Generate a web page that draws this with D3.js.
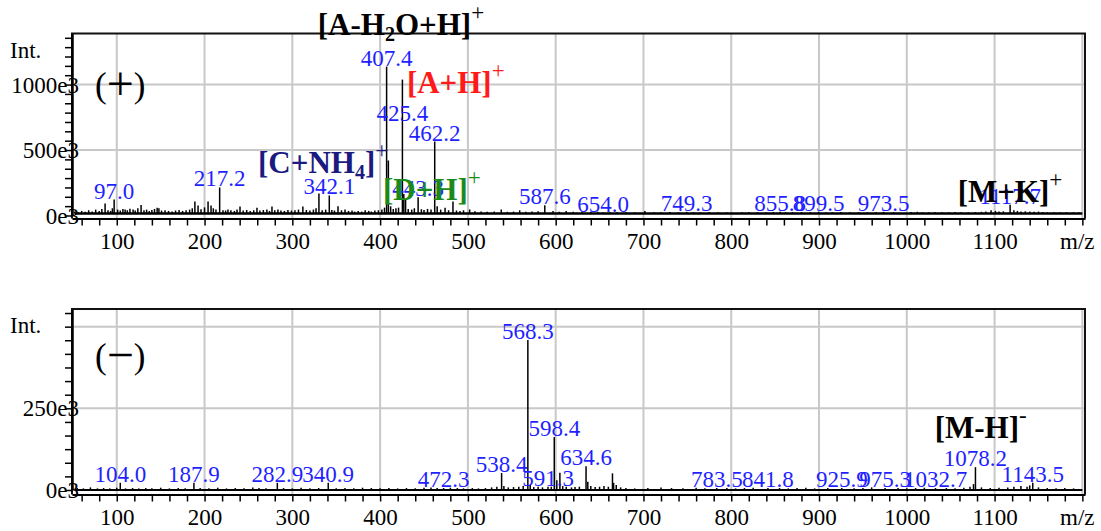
<!DOCTYPE html>
<html>
<head>
<meta charset="utf-8">
<script src="https://cdn.jsdelivr.net/npm/d3@7/dist/d3.min.js"></script>
<style>
  body { margin: 0; background: #fff; }
  svg { display: block; }
  text { font-family: "Liberation Serif", "Times New Roman", serif; }
</style>
</head>
<body>
<div id="chart"></div>
<script>
const xTickValues = [100, 200, 300, 400, 500, 600, 700, 800, 900, 1000, 1100, 1200];
const xTickLabels = [100, 200, 300, 400, 500, 600, 700, 800, 900, 1000, 1100];

// modo positivo: picos etiquetados
const posLabeled = [
  [97.0, 122], [217.2, 214], [342.1, 153], [407.4, 1137], [425.4, 1038],
  [443.3, 140], [462.2, 565], [587.6, 79], [654.0, 22], [749.3, 28],
  [855.8, 28], [899.5, 28], [973.5, 28], [1117.7, 82]
];
// modo positivo: picos menores / ruido
const posMinor = [
  [52, 30], [56, 25], [60, 35], [64, 28], [68, 40], [72, 30], [76, 45], [80, 35], [83, 50],
  [86.7, 92], [90, 40], [93, 35], [95, 55], [101, 45], [104, 38], [107, 50], [109.5, 46],
  [112, 40], [115, 52], [118.6, 46], [121, 38], [124, 55], [127.7, 80], [131, 40], [134, 45],
  [137, 35], [140, 42], [143, 50], [146, 60], [148, 55], [151, 38], [155, 40], [159, 35],
  [163, 30], [167, 38], [171, 42], [175, 35], [179, 40], [183, 45], [186, 55], [189, 107],
  [192.6, 77], [196, 48], [200, 62], [204, 107], [207.4, 76], [210, 55], [213, 45], [221, 40],
  [224, 38], [226.7, 46], [230, 40], [234, 35], [237, 45], [240.4, 69], [244, 38], [248, 42],
  [252, 35], [256, 40], [259.7, 60], [263, 38], [267, 42], [271, 46], [274, 35], [276.8, 69],
  [280, 40], [283.6, 46], [287, 38], [291, 35], [295, 42], [299, 38], [303, 40], [307, 45],
  [312, 69], [316, 42], [320, 38], [324, 45], [327, 55], [330.3, 168], [334, 40], [338, 45],
  [345, 42], [348, 38], [352, 71], [356, 40], [360, 46], [364, 35], [368, 38], [371, 30],
  [375, 35], [379, 30], [383, 40], [387, 35], [390, 30], [394, 38], [398, 40], [402, 45],
  [405, 60], [409.4, 420], [412, 70], [415, 50], [418, 55], [421, 60], [427, 165], [429, 122],
  [432, 50], [436, 45], [439, 55], [447, 48], [450, 42], [454, 50], [458, 45], [465, 71],
  [469, 45], [474, 60], [478, 40], [483, 107], [487, 38], [491, 35], [495, 40], [502, 46],
  [508, 32], [515, 30], [522, 28], [530, 30], [538, 46], [545, 28], [552, 30], [559, 40],
  [566, 28], [573, 30], [580, 32], [597, 35], [604, 28], [612, 35], [620, 28], [630, 30],
  [640, 26], [648, 28], [662, 25], [670, 26], [680, 24], [690, 25], [701.6, 35], [712, 25],
  [720, 24], [730, 26], [740, 24], [757, 25], [765, 24], [775, 26], [785, 24], [795, 25],
  [812, 24], [820, 26], [830, 25], [840, 24], [848, 26], [862, 25], [870, 24], [880, 26],
  [890, 24], [908, 25], [915, 24], [925, 26], [935, 24], [945, 25], [955, 24], [965, 25],
  [985, 24], [1005, 26], [1012, 28], [1018, 25], [1025, 24], [1032, 26], [1040, 25], [1048, 24],
  [1055, 26], [1062, 25], [1070, 24], [1078, 26], [1085, 28], [1090, 30], [1096, 40], [1101, 35],
  [1105, 30], [1110, 32], [1122, 40], [1126, 35], [1130, 30], [1135, 32], [1140, 30], [1145, 28],
  [1150, 30], [1155, 26], [1160, 24], [1168, 25], [1175, 24], [1182, 26], [1190, 25], [1196, 24]
];

// modo negativo: picos etiquetados
const negLabeled = [
  [104.0, 22], [187.9, 22], [282.9, 22], [340.9, 22], [472.3, 6], [538.4, 52],
  [568.3, 459], [591.3, 10], [598.4, 162], [634.6, 73], [783.5, 6], [841.8, 6],
  [925.9, 6], [975.3, 6], [1032.7, 6], [1078.2, 70], [1143.5, 22]
];
// modo negativo: picos menores / ruido
const negMinor = [
  [55, 6], [62, 5], [70, 8], [78, 5], [85, 6], [92, 5], [100, 7], [110, 5], [118, 6], [125, 5],
  [133, 6], [140, 5], [150, 7], [160, 5], [170, 6], [178, 5], [195, 6], [205, 5], [215, 7],
  [225, 5], [235, 6], [245, 5], [255, 8], [262, 6], [270, 5], [290, 6], [300, 5], [310, 7],
  [320, 5], [330, 6], [350, 5], [360, 6], [370, 5], [380, 7], [390, 6], [400, 5], [410, 6],
  [420, 5], [430, 6], [440, 5], [450, 7], [458, 8], [465, 6], [480, 7], [488, 6], [495, 5],
  [505, 6], [512, 5], [520, 6], [527, 8], [533, 10], [541, 12], [546, 8], [552, 9], [558, 10],
  [563, 12], [571, 15], [575, 9], [580, 10], [585, 8], [595, 10], [601.3, 30], [604.8, 53],
  [608, 12], [612, 10], [618, 8], [622, 9], [627, 10], [636.6, 25], [640, 12], [645, 9],
  [650, 10], [655, 12], [660, 10], [664.7, 51], [666, 22], [669, 15], [674, 8], [680, 6],
  [690, 5], [705, 6], [720, 8], [732, 6], [745, 5], [760, 7], [770, 5], [795, 6], [805, 5],
  [815, 6], [825, 7], [855, 6], [865, 5], [875, 6], [885, 7], [895, 5], [910, 6], [940, 5],
  [950, 6], [960, 8], [990, 6], [1000, 5], [1010, 6], [1020, 7], [1045, 6], [1055, 5], [1065, 7],
  [1072, 10], [1076, 18], [1085, 8], [1095, 6], [1105, 7], [1115, 8], [1122, 10], [1130, 12],
  [1137, 10], [1140, 14], [1150, 8], [1160, 6], [1170, 5], [1180, 6], [1190, 5]
];

// anotaciones: [m/z de inicio, intensidad de la línea base del texto (e3), partes, color]
const posNotes = [
  [329, 1378, [["[A-H"], ["2", "sub"], ["O+H]"], ["+", "sup"]], "#000"],
  [430.5, 935, [["[A+H]"], ["+", "sup"]], "#ff1a1a"],
  [260.9, 325, [["[C+NH"], ["4", "sub"], ["]"], ["+", "sup"]], "#1a1a80"],
  [403.2, 118, [["[D+H]"], ["+", "sup"]], "#1a8a1a"],
  [1057.9, 103, [["[M+K]"], ["+", "sup"]], "#000"]
];
const negNotes = [
  [1031.7, 159, [["[M-H]"], ["-", "sup"]], "#000"]
];
// etiquetas desplazadas por el programa original (intensidad de la línea base, e3)
const posLabelNudge = { "425.4": 714 };

const width = 1101, height = 531;
const svg = d3.select("#chart").append("svg")
  .attr("width", width).attr("height", height);

const x = d3.scaleLinear().domain([49, 1203]).range([72, 1085]);
const minorX = d3.range(60, 1201, 20);

/**
 * Dibuja un panel del espectro.
 */
function drawPanel(cfg) {
  const y = d3.scaleLinear().domain([0, cfg.yMax]).range([cfg.y0, cfg.top]);
  const g = svg.append("g");

  // rejilla
  g.selectAll("line.vgrid").data(xTickValues).enter().append("line")
    .attr("x1", d => x(d)).attr("x2", d => x(d))
    .attr("y1", cfg.top).attr("y2", cfg.bottom)
    .attr("stroke", "#c8c8c8").attr("stroke-width", 2);
  g.selectAll("line.hgrid").data(cfg.gridY).enter().append("line")
    .attr("x1", x.range()[0]).attr("x2", x.range()[1])
    .attr("y1", d => y(d)).attr("y2", d => y(d))
    .attr("stroke", "#c8c8c8").attr("stroke-width", 2);

  // línea base del ruido
  g.append("line")
    .attr("x1", x(52)).attr("x2", x(1200))
    .attr("y1", y(cfg.base)).attr("y2", y(cfg.base))
    .attr("stroke", "#000").attr("stroke-width", cfg.baseWidth);

  // picos
  const peaks = cfg.minor.concat(cfg.labeled);
  g.selectAll("line.peak").data(peaks).enter().append("line")
    .attr("x1", d => x(d[0])).attr("x2", d => x(d[0]))
    .attr("y1", y(cfg.base)).attr("y2", d => y(d[1] * 1e3))
    .attr("stroke", "#000").attr("stroke-width", 1.5);

  // marco
  g.append("path")
    .attr("d", `M${x.range()[0]},${cfg.bottom}V${cfg.top}H${x.range()[1]}V${cfg.bottom}`)
    .attr("fill", "none").attr("stroke", "#111").attr("stroke-width", 2);

  // eje X
  const xAxis = d3.axisBottom(x).tickValues(minorX)
    .tickFormat(d => xTickLabels.includes(d) ? d : "")
    .tickSize(7).tickSizeOuter(0);
  const gx = g.append("g").attr("transform", `translate(0,${cfg.bottom})`).call(xAxis);
  gx.select(".domain").attr("stroke-width", 2);
  gx.selectAll(".tick line").attr("stroke-width", 1.5);
  gx.selectAll(".tick text").attr("font-size", 23).attr("font-family", "Liberation Serif")
    .attr("fill", "#000").attr("y", 30).attr("dy", 0);
  g.append("text").attr("x", 1060).attr("y", cfg.bottom + 30)
    .attr("font-size", 23).text("m/z");

  // eje Y
  const isLabel = d => cfg.labelY.some(v => Math.abs(v - d) < 1);
  const yAxis = d3.axisLeft(y).tickValues(cfg.minorY)
    .tickFormat(d => isLabel(d) ? `${Math.round(d / 1e3)}e3` : "")
    .tickSize(7).tickSizeOuter(0);
  const gy = g.append("g").attr("transform", `translate(${x.range()[0]},0)`).call(yAxis);
  gy.select(".domain").attr("stroke-width", 2.5);
  gy.selectAll(".tick line").attr("stroke-width", 1.5);
  gy.selectAll(".tick text").attr("font-size", 23).attr("font-family", "Liberation Serif")
    .attr("fill", "#000").attr("x", 7).attr("dy", "0.33em");
  g.append("text").attr("x", 10).attr("y", cfg.intY).attr("font-size", 23).text("Int.");

  // signo del modo
  const sign = g.append("text").attr("x", 95).attr("y", cfg.signY)
    .attr("font-size", 35).attr("fill", "#000");
  sign.append("tspan").text("(");
  sign.append("tspan").attr("font-size", 48).attr("dy", 3).text(cfg.sign);
  sign.append("tspan").attr("dy", -3).text(")");

  // etiquetas de m/z
  g.selectAll("text.mz").data(cfg.labeled).enter().append("text")
    .attr("x", d => x(d[0]))
    .attr("y", d => y((cfg.nudge[d[0].toFixed(1)] || d[1]) * 1e3) - 1)
    .attr("text-anchor", "middle").attr("font-size", 23).attr("fill", "#1f1fff")
    .text(d => d[0].toFixed(1));

  // anotaciones
  cfg.notes.forEach(([mz, yi, parts, color]) => {
    const t = g.append("text").attr("x", x(mz)).attr("y", y(yi * 1e3))
      .attr("font-size", 31).attr("font-weight", "bold").attr("fill", color);
    let shift = 0;
    parts.forEach(([s, kind]) => {
      const target = kind === "sub" ? 6 : kind === "sup" ? -15 : 0;
      const sp = t.append("tspan").attr("dy", target - shift).text(s);
      if (kind) sp.attr("font-size", kind === "sup" ? 23 : 20).attr("font-weight", kind === "sup" ? "normal" : "bold");
      shift = target;
    });
  });
}

drawPanel({
  top: 33.5, y0: 215.5, bottom: 218.5, yMax: 1390e3,
  gridY: [500e3, 1000e3], labelY: [0, 500e3, 1000e3],
  minorY: d3.range(0, 1390e3, 500e3 / 7),
  base: 15e3, baseWidth: 2.5,
  minor: posMinor, labeled: posLabeled, notes: posNotes, nudge: posLabelNudge,
  intY: 58, signY: 97, sign: "+"
});

drawPanel({
  top: 309, y0: 490, bottom: 494.5, yMax: 554e3,
  gridY: [250e3, 500e3], labelY: [0, 250e3],
  minorY: d3.range(0, 554e3, 250e3 / 6),
  base: 0, baseWidth: 2,
  minor: negMinor, labeled: negLabeled, notes: negNotes, nudge: {},
  intY: 333, signY: 368, sign: "\u2212"
});
</script>
</body>
</html>
